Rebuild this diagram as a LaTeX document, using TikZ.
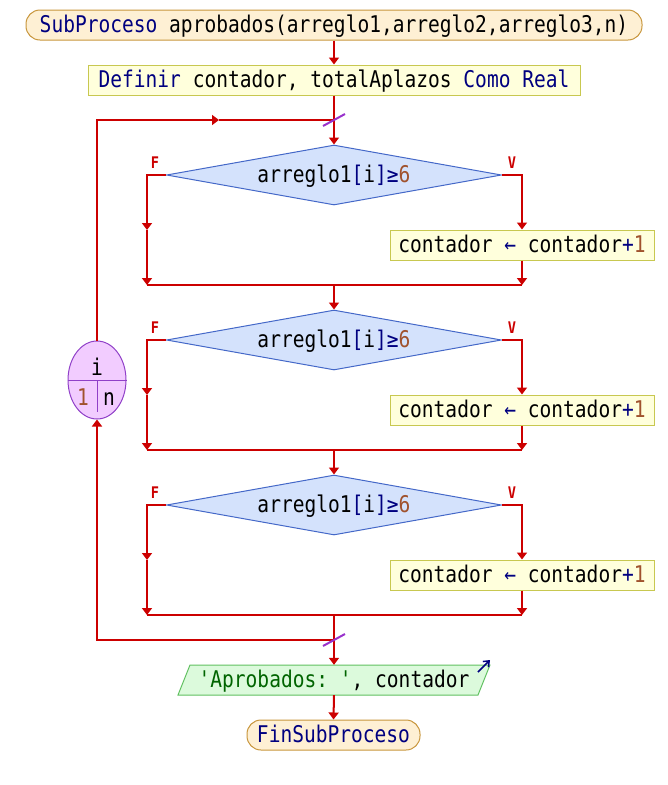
\documentclass[tikz,border=0pt]{standalone}
\usepackage{fontspec}
\usetikzlibrary{shapes.geometric,arrows.meta}
\newfontfamily\pf[FakeStretch=0.85]{DejaVu Sans Mono}
\newcommand\pfs{\pf\fontsize{23pt}{26pt}\selectfont}
\newcommand\pfl{\pf\fontsize{16pt}{17pt}\selectfont\bfseries}
\definecolor{lred}{HTML}{CC0000}
\definecolor{kw}{HTML}{000080}
\definecolor{num}{HTML}{A0522D}
\definecolor{str}{HTML}{006400}
\definecolor{termf}{HTML}{FEF0D4}
\definecolor{termb}{HTML}{C8963C}
\definecolor{procf}{HTML}{FFFFDC}
\definecolor{procb}{HTML}{C8C850}
\definecolor{decf}{HTML}{D4E2FC}
\definecolor{decb}{HTML}{4468C8}
\definecolor{loopf}{HTML}{F2CCFF}
\definecolor{loopb}{HTML}{9040C8}
\definecolor{outf}{HTML}{DCFADC}
\definecolor{outb}{HTML}{60C060}
\definecolor{slashc}{HTML}{9933CC}
\tikzset{
  flow/.style={draw=lred, line width=2pt},
  arr/.style={flow, -{Triangle[width=10pt,length=7pt]}},
  base/.style={inner sep=0pt, text height=17pt, text depth=3pt, font=\pfs},
  term/.style={base, draw=termb, fill=termf, rounded corners=14pt, line width=1pt, minimum height=30pt},
  proc/.style={base, draw=procb, fill=procf, line width=1pt, minimum height=30pt, minimum width=264pt},
  dec/.style={base, diamond, shape aspect=5.6, draw=decb, fill=decf, line width=1pt, minimum width=335pt, minimum height=60pt},
  loopnode/.style={ellipse, inner sep=0pt, draw=loopb, fill=loopf, line width=1pt, minimum width=58pt, minimum height=78pt},
  loopline/.style={draw=loopb, line width=1pt},
  outshape/.style={draw=outb, fill=outf, line width=1pt},
  lab/.style={inner sep=0pt, font=\pfl, text=lred},
  slash/.style={draw=slashc, line width=2pt},
}
\begin{document}
\begin{tikzpicture}[x=1pt,y=-1pt]
\useasboundingbox (0,0) rectangle (668,785);

\node[term, minimum width=616pt] (start) at (334,25) {\textcolor{kw}{SubProceso} aprobados(arreglo1,arreglo2,arreglo3,n)};
\node[proc, minimum width=492pt] (def) at (334,80) {\textcolor{kw}{Definir} contador, totalAplazos \textcolor{kw}{Como Real}};

\foreach \k/\y in {1/175,2/340,3/505}{
  \node[dec] (d\k) at (334,\y) {arreglo1\textcolor{kw}{[}i\textcolor{kw}{]≥}\textcolor{num}{6}};
  \node[proc] (b\k) at (522,\y+70) {contador \textcolor{kw}{←} contador\textcolor{kw}{+}\textcolor{num}{1}};
  \node[lab] (f\k) at (155,\y-12) {F};
  \node[lab] (v\k) at (512,\y-12) {V};
  \coordinate (lm\k) at (147,\y+55);
  \coordinate (lb\k) at (147,\y+110);
  \coordinate (rb\k) at (522,\y+110);
  \coordinate (mb\k) at (334,\y+110);
  \draw[arr] (d\k.west) -| (lm\k);
  \draw[arr] (lm\k) -- (lb\k);
  \draw[arr] (d\k.east) -| (b\k.north);
  \draw[arr] (b\k.south) -- (rb\k);
  \draw[flow] (lb\k) -- (rb\k);
}

\node[loopnode] (loop) at (97,380) {};
\draw[loopline] (loop.west) -- (loop.east);
\draw[loopline] (loop.center) -- ++(0,32);
\node[base] (li) at (97,368) {i};
\node[base, text=num] (l1) at (83,398) {1};
\node[base] (ln) at (109,398) {n};

\path[outshape] (178,695) -- (190,665) -- (490,665) -- (478,695) -- cycle;
\node[base, minimum width=300pt, minimum height=30pt] (out) at (334,680) {\textcolor{str}{'Aprobados:~'}, contador};
\draw[kw, line width=1.5pt, -{Straight Barb[length=5pt,width=8pt]}] ([shift={(144,-8)}]out.center) -- ++(12,-12);

\node[term, minimum width=173pt] (fin) at (333.5,735) {\textcolor{kw}{FinSubProceso}};

\coordinate (lt) at (334,120);
\coordinate (lta) at (219,120);
\coordinate (lbk) at (334,640);

\draw[arr] (start.south) -- (def.north);
\draw[arr] (def.south) -- (d1.north);
\draw[arr] (mb1) -- (d2.north);
\draw[arr] (mb2) -- (d3.north);
\draw[arr] (mb3) -- (out.north);
\draw[arr] (out.south) -- (fin.north);
\draw[arr] (lbk) -| (loop.south);
\draw[arr] (loop.north) |- (lta);
\draw[flow] (lta) -- (lt);

\draw[slash] ([shift={(-11,6)}]lt) -- ([shift={(11,-6)}]lt);
\draw[slash] ([shift={(-11,6)}]lbk) -- ([shift={(11,-6)}]lbk);
\end{tikzpicture}
\end{document}
